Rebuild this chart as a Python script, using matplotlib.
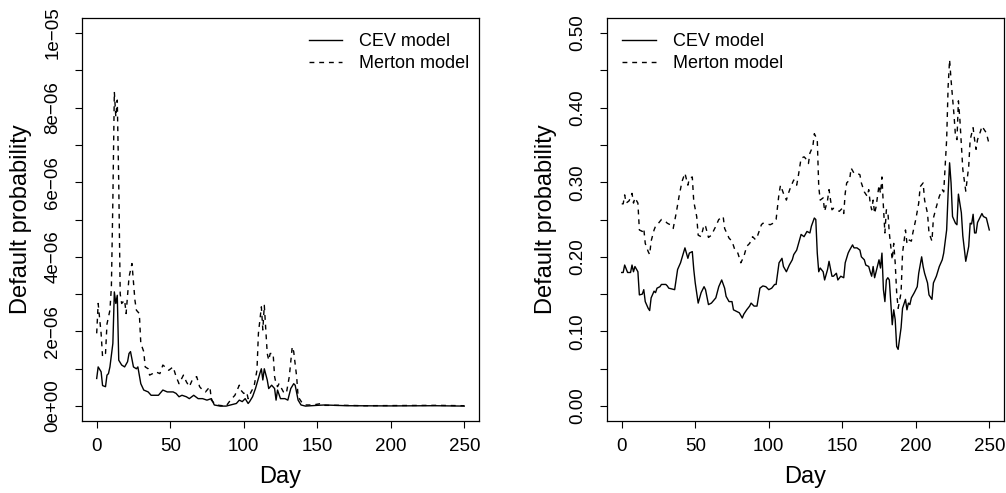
import matplotlib.pyplot as plt

plt.rcParams['font.family'] = ['Liberation Sans', 'DejaVu Sans']

# left panel: default probabilities in units of 1e-6
left_cev_day = [0, 1, 3, 4, 6, 7, 8, 9, 11, 12, 13, 14, 15, 17, 19, 21, 22, 23, 25, 27, 28, 30, 32, 35, 37, 39,
                42, 45, 48, 52, 54, 56, 58, 61, 63, 66, 69, 72, 75, 78, 80, 84, 88, 91, 95, 97, 99, 101, 103, 104,
                106, 108, 111, 112, 113, 114, 116, 117, 119, 121, 122, 123, 125, 128, 130, 132, 134, 135, 137, 139,
                142, 150, 155, 170, 200, 230, 250]
left_cev = [0.74, 1.05, 0.92, 0.55, 0.52, 0.83, 0.87, 1.05, 1.68, 3.06, 2.75, 2.97, 1.23, 1.1, 1.05, 1.19, 1.41,
            1.46, 1.05, 1.0, 1.05, 0.6, 0.43, 0.38, 0.29, 0.29, 0.29, 0.43, 0.38, 0.38, 0.34, 0.25, 0.29, 0.25,
            0.2, 0.29, 0.2, 0.2, 0.16, 0.2, 0.03, 0.0, 0.0, 0.03, 0.07, 0.16, 0.12, 0.2, 0.07, 0.12, 0.25, 0.47,
            0.88, 1.0, 0.7, 1.0, 0.7, 0.47, 0.56, 0.47, 0.16, 0.43, 0.2, 0.2, 0.16, 0.47, 0.6, 0.56, 0.16, 0.03,
            0.0, 0.02, 0.03, 0.01, 0.005, 0.01, 0.0]

left_mer_day = [0, 1, 3, 4, 6, 7, 9, 10, 11, 12, 13, 14, 15, 16, 17, 19, 20, 22, 24, 26, 27, 29, 30, 32, 33, 35,
                36, 38, 40, 43, 45, 48, 49, 52, 54, 56, 59, 61, 63, 65, 68, 70, 72, 74, 77, 78, 81, 88, 91, 94, 97,
                98, 100, 102, 103, 105, 107, 109, 110, 112, 113, 114, 116, 117, 118, 120, 121, 122, 123, 124, 127,
                129, 131, 133, 134, 136, 137, 140, 142, 147, 150, 153, 155, 170, 181, 231, 250]
left_mer = [1.95, 2.75, 1.95, 1.32, 1.41, 2.2, 2.57, 3.2, 5.52, 8.42, 7.75, 8.2, 5.96, 3.0, 2.75, 2.84, 2.48,
            3.46, 3.82, 2.84, 2.57, 2.48, 1.68, 1.46, 1.05, 1.0, 0.83, 0.87, 0.92, 0.87, 1.1, 1.0, 0.96, 1.05,
            0.79, 0.6, 0.83, 0.65, 0.52, 0.7, 0.79, 0.52, 0.43, 0.38, 0.52, 0.16, 0.03, 0.0, 0.16, 0.29, 0.56,
            0.43, 0.34, 0.38, 0.2, 0.38, 0.52, 0.96, 1.95, 2.66, 2.04, 2.7, 1.41, 1.23, 1.41, 1.41, 0.79, 0.6,
            0.52, 0.6, 0.38, 0.34, 0.79, 1.59, 1.46, 0.79, 0.25, 0.07, 0.03, 0.03, 0.05, 0.07, 0.02, 0.02, 0.01,
            0.02, 0.01]

# right panel
right_cev_day = [0, 1, 2, 4, 6, 7, 8, 9, 11, 12, 14, 15, 16, 18, 19, 20, 22, 23, 24, 26, 27, 30, 31, 32, 34, 36,
                 38, 40, 42, 43, 45, 46, 48, 49, 50, 52, 54, 56, 57, 59, 61, 64, 66, 68, 70, 71, 73, 75, 76, 78,
                 80, 82, 83, 85, 87, 88, 90, 92, 94, 96, 98, 100, 102, 104, 105, 107, 109, 110, 112, 114, 116,
                 117, 119, 121, 122, 124, 126, 128, 129, 131, 132, 133, 134, 135, 137, 138, 140, 141, 143, 144,
                 146, 147, 149, 151, 152, 154, 155, 157, 158, 160, 162, 163, 165, 166, 168, 169, 170, 171, 172,
                 173, 175, 176, 177, 178, 179, 180, 181, 182, 184, 185, 186, 187, 188, 190, 191, 193, 194, 195,
                 196, 197, 199, 201, 202, 204, 205, 206, 208, 209, 211, 212, 214, 216, 218, 219, 221, 222, 223,
                 224, 225, 227, 228, 229, 231, 232, 234, 236, 237, 238, 239, 240, 241, 242, 245, 246, 248, 250]
right_cev = [0.179, 0.179, 0.189, 0.179, 0.179, 0.189, 0.18, 0.187, 0.18, 0.149, 0.15, 0.156, 0.14, 0.131, 0.128,
             0.145, 0.154, 0.152, 0.158, 0.16, 0.163, 0.163, 0.161, 0.158, 0.157, 0.156, 0.183, 0.192, 0.205,
             0.212, 0.198, 0.205, 0.207, 0.183, 0.165, 0.138, 0.152, 0.16, 0.156, 0.136, 0.138, 0.145, 0.16,
             0.169, 0.158, 0.147, 0.14, 0.14, 0.129, 0.127, 0.125, 0.118, 0.123, 0.129, 0.134, 0.138, 0.134,
             0.134, 0.158, 0.161, 0.16, 0.156, 0.158, 0.163, 0.163, 0.192, 0.198, 0.187, 0.18, 0.189, 0.196,
             0.203, 0.209, 0.223, 0.23, 0.227, 0.234, 0.232, 0.241, 0.252, 0.25, 0.205, 0.18, 0.185, 0.18,
             0.169, 0.183, 0.194, 0.174, 0.174, 0.178, 0.169, 0.174, 0.172, 0.192, 0.205, 0.209, 0.216, 0.212,
             0.212, 0.209, 0.2, 0.196, 0.189, 0.187, 0.18, 0.174, 0.187, 0.172, 0.18, 0.196, 0.185, 0.205,
             0.156, 0.14, 0.169, 0.172, 0.169, 0.109, 0.129, 0.116, 0.08, 0.076, 0.105, 0.131, 0.143, 0.129,
             0.138, 0.136, 0.145, 0.152, 0.16, 0.178, 0.2, 0.187, 0.178, 0.165, 0.149, 0.143, 0.165, 0.174,
             0.187, 0.196, 0.205, 0.236, 0.285, 0.326, 0.299, 0.254, 0.245, 0.243, 0.284, 0.259, 0.228, 0.194,
             0.214, 0.245, 0.244, 0.257, 0.232, 0.232, 0.246, 0.258, 0.254, 0.252, 0.236]

right_mer_day = [0, 1, 2, 3, 5, 7, 8, 9, 11, 12, 14, 15, 16, 18, 19, 20, 22, 23, 25, 27, 30, 31, 33, 35, 37, 39,
                 41, 43, 45, 46, 48, 49, 51, 52, 54, 56, 57, 59, 61, 64, 66, 69, 70, 73, 75, 77, 79, 81, 83, 85,
                 87, 89, 91, 92, 95, 96, 99, 101, 103, 105, 107, 108, 110, 112, 113, 115, 117, 119, 120, 122,
                 124, 125, 127, 128, 130, 131, 133, 134, 135, 137, 138, 140, 141, 143, 144, 146, 148, 150, 151,
                 152, 153, 155, 156, 158, 160, 162, 163, 165, 167, 168, 169, 170, 171, 172, 173, 175, 176, 177,
                 178, 179, 180, 181, 182, 184, 185, 186, 187, 188, 190, 191, 193, 194, 195, 197, 198, 200, 202,
                 203, 205, 206, 208, 209, 211, 212, 214, 216, 218, 219, 221, 222, 223, 224, 226, 227, 228, 229,
                 230, 232, 234, 236, 237, 239, 240, 241, 242, 244, 245, 248, 250]
right_mer = [0.271, 0.271, 0.283, 0.272, 0.275, 0.285, 0.272, 0.279, 0.272, 0.236, 0.234, 0.238, 0.218, 0.207,
             0.203, 0.221, 0.236, 0.241, 0.245, 0.25, 0.247, 0.245, 0.243, 0.238, 0.258, 0.281, 0.301, 0.312,
             0.296, 0.305, 0.307, 0.274, 0.254, 0.229, 0.227, 0.243, 0.241, 0.226, 0.229, 0.241, 0.25, 0.254,
             0.238, 0.225, 0.221, 0.209, 0.205, 0.192, 0.2, 0.214, 0.218, 0.227, 0.223, 0.226, 0.243, 0.245,
             0.244, 0.243, 0.245, 0.25, 0.285, 0.296, 0.285, 0.276, 0.283, 0.294, 0.303, 0.296, 0.307, 0.332,
             0.334, 0.332, 0.325, 0.339, 0.348, 0.365, 0.357, 0.294, 0.276, 0.279, 0.261, 0.276, 0.29, 0.263,
             0.265, 0.263, 0.261, 0.265, 0.258, 0.285, 0.299, 0.303, 0.319, 0.312, 0.312, 0.31, 0.299, 0.287,
             0.281, 0.29, 0.272, 0.263, 0.276, 0.258, 0.267, 0.296, 0.285, 0.307, 0.267, 0.232, 0.263, 0.261,
             0.232, 0.196, 0.218, 0.192, 0.152, 0.131, 0.152, 0.205, 0.236, 0.218, 0.223, 0.221, 0.232, 0.25,
             0.272, 0.294, 0.299, 0.276, 0.258, 0.232, 0.221, 0.252, 0.267, 0.281, 0.29, 0.287, 0.357, 0.428,
             0.464, 0.437, 0.39, 0.362, 0.357, 0.409, 0.384, 0.317, 0.288, 0.321, 0.357, 0.373, 0.357, 0.344,
             0.357, 0.368, 0.375, 0.366, 0.35]

x_ticks = [0, 50, 100, 150, 200, 250]
left_yticks = [i * 1e-6 for i in range(11)]
left_ylabels = ['0e+00', '', '2e\u221206', '', '4e\u221206', '', '6e\u221206', '', '8e\u221206', '', '1e\u221205']
right_yticks = [i * 0.05 for i in range(11)]
right_ylabels = ['0.00', '', '0.10', '', '0.20', '', '0.30', '', '0.40', '', '0.50']

fig = plt.figure(figsize=(10.06, 4.93), dpi=100)
ax1 = fig.add_axes([0.0815, 0.146, 0.3946, 0.8175])
ax2 = fig.add_axes([0.6034, 0.146, 0.3946, 0.8175])

ax1.plot(left_cev_day, [v * 1e-6 for v in left_cev], color='black', lw=1.0, label='CEV model')
ax1.plot(left_mer_day, [v * 1e-6 for v in left_mer], color='black', lw=1.0, dashes=(3.5, 3.5),
         label='Merton model')
ax2.plot(right_cev_day, right_cev, color='black', lw=1.0, label='CEV model')
ax2.plot(right_mer_day, right_mer, color='black', lw=1.0, dashes=(3.5, 3.5), label='Merton model')

for ax, yt, yl, ylim in [(ax1, left_yticks, left_ylabels, (-4e-7, 1.04e-5)),
                         (ax2, right_yticks, right_ylabels, (-0.02, 0.52))]:
    ax.set_xlim(-10, 260)
    ax.set_ylim(*ylim)
    ax.set_xticks(x_ticks)
    ax.set_yticks(yt)
    ax.set_yticklabels(yl, rotation=90, va='center')
    ax.tick_params(direction='out', length=5, width=0.8, labelsize=13.5, pad=7.5)
    ax.tick_params(axis='y', pad=10)
    for s in ax.spines.values():
        s.set_linewidth(0.9)
    ax.set_xlabel('Day', fontsize=17, labelpad=8)
    ax.set_ylabel('Default probability', fontsize=17, labelpad=9)

ax1.legend(loc='upper right', bbox_to_anchor=(1.015, 1.0), frameon=False, fontsize=13, handlelength=1.85,
           handletextpad=0.95, labelspacing=0.25, borderaxespad=0.45)
ax2.legend(loc='upper left', frameon=False, fontsize=13, handlelength=1.85, handletextpad=0.95,
           labelspacing=0.25, borderaxespad=0.45)

fig.savefig('out.png', dpi=100)
